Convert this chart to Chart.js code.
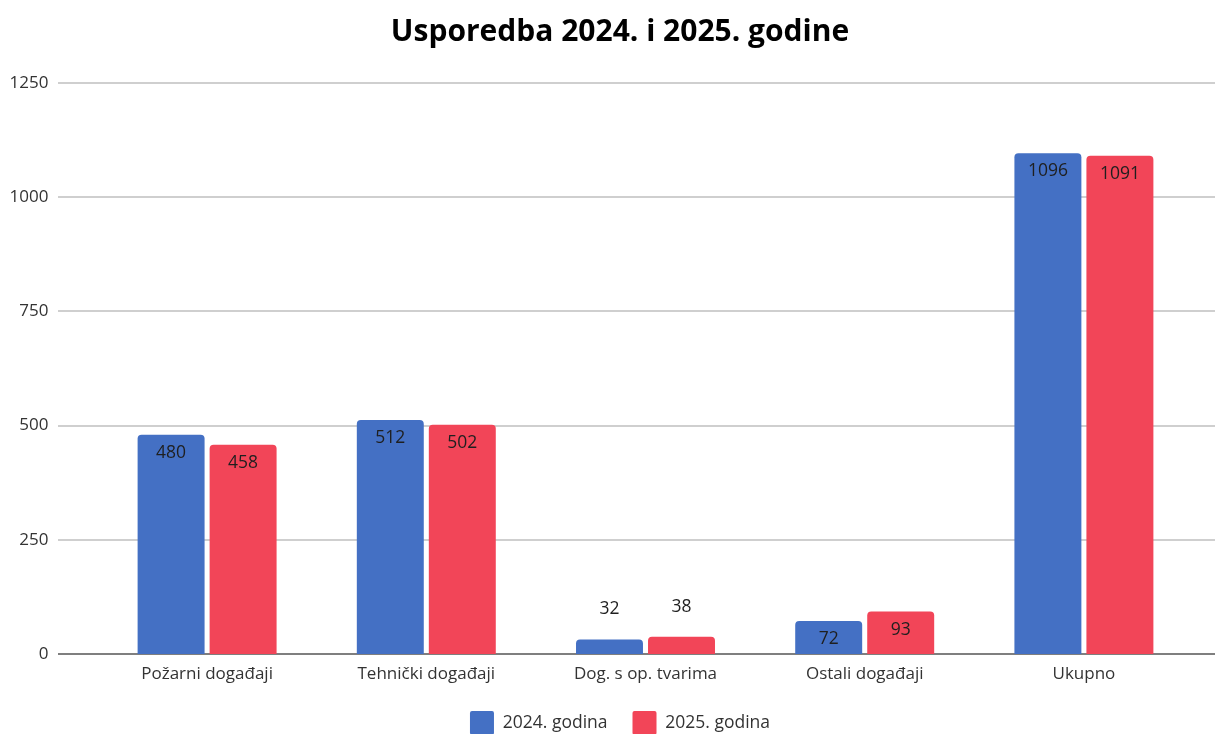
<!DOCTYPE html>
<html>
<head>
<meta charset="utf-8">
<script src="https://cdn.jsdelivr.net/npm/chart.js@4/dist/chart.umd.min.js"></script>
<style>
  html, body { margin: 0; padding: 0; background: #fff; overflow: hidden; }
  #wrap { width: 1217px; height: 745px; position: relative; }
</style>
</head>
<body>
<div id="wrap"><canvas id="cmp"></canvas></div>
<script>
// values
var categories = ['Požarni događaji', 'Tehnički događaji', 'Dog. s op. tvarima', 'Ostali događaji', 'Ukupno'];
var values2024 = [480, 512, 32, 72, 1096];
var values2025 = [458, 502, 38, 93, 1091];
var seriesNames = ['2024. godina', '2025. godina'];
var yTicks = [0, 250, 500, 750, 1000, 1250];

(function () {
  'use strict';

  var FONT = '"Open Sans", Lato, sans-serif';

  // horizontal grid lines run past the plot area, like the original
  var wideGrid = {
    id: 'wideGrid',
    beforeDatasetsDraw: function (chart) {
      var ctx = chart.ctx, y = chart.scales.y;
      ctx.save();
      yTicks.forEach(function (v) {
        var py = Math.round(y.getPixelForValue(v));
        ctx.beginPath();
        ctx.moveTo(58, py);
        ctx.lineTo(1215, py);
        ctx.lineWidth = v === 0 ? 1.5 : 2;
        ctx.strokeStyle = v === 0 ? '#555555' : '#cfcfcf';
        ctx.stroke();
      });
      ctx.restore();
    }
  };

  // value labels: inside the top of tall bars, above short ones
  var barLabels = {
    id: 'barLabels',
    afterDatasetsDraw: function (chart) {
      var ctx = chart.ctx;
      ctx.save();
      ctx.font = '17.5px ' + FONT;
      ctx.fillStyle = '#1f1f1f';
      ctx.textAlign = 'center';
      ctx.textBaseline = 'middle';
      chart.data.datasets.forEach(function (ds, i) {
        chart.getDatasetMeta(i).data.forEach(function (bar, j) {
          var h = bar.base - bar.y;
          var ty = h > 25 ? bar.y + 18 : bar.y - 30;
          ctx.fillText(String(ds.data[j]), bar.x, ty);
        });
      });
      ctx.restore();
    }
  };

  new Chart(document.getElementById('cmp'), {
    type: 'bar',
    data: {
      labels: categories,
      datasets: [{
        label: seriesNames[0],
        data: values2024,
        backgroundColor: '#4470c4',
        borderRadius: 4,
        categoryPercentage: 0.657,
        barPercentage: 0.93
      }, {
        label: seriesNames[1],
        data: values2025,
        backgroundColor: '#f24558',
        borderRadius: 4,
        categoryPercentage: 0.657,
        barPercentage: 0.93
      }]
    },
    options: {
      responsive: true,
      maintainAspectRatio: false,
      animation: false,
      // negative right padding keeps title/legend centred at x≈620
      layout: { padding: { left: 0, right: -23, top: 0, bottom: 0 } },
      plugins: {
        title: {
          display: true,
          text: 'Usporedba 2024. i 2025. godine',
          color: '#000',
          font: { family: FONT, size: 30, weight: 'bold' },
          padding: { top: 14, bottom: 33 }
        },
        legend: {
          position: 'bottom',
          labels: {
            color: '#333',
            font: { family: FONT, size: 17.5 },
            boxWidth: 24,
            boxHeight: 24,
            padding: 25,
            useBorderRadius: true,
            borderRadius: 2
          }
        },
        tooltip: { enabled: false }
      },
      scales: {
        x: {
          grid: { display: false, drawTicks: false },
          border: { display: false },
          ticks: { color: '#333', font: { family: FONT, size: 17 }, padding: 10, maxRotation: 0 },
          afterFit: function (s) { s.height = 32; }
        },
        y: {
          min: 0,
          max: 1250,
          grid: { display: false, drawTicks: false },
          border: { display: false },
          ticks: {
            stepSize: 250,
            color: '#333',
            font: { family: FONT, size: 17 },
            padding: 49,
            callback: function (v) { return String(v); }
          },
          afterFit: function (s) { s.width = 97.5; }
        },
        y2: {
          position: 'right',
          display: true,
          grid: { display: false, drawTicks: false },
          border: { display: false },
          ticks: { display: false },
          afterFit: function (s) { s.width = 46.5; }
        }
      }
    },
    plugins: [wideGrid, barLabels]
  });
}());
</script>
</body>
</html>
